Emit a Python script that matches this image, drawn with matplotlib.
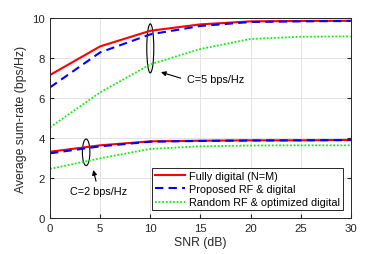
import matplotlib
matplotlib.use("Agg")
import matplotlib.pyplot as plt
from matplotlib.patches import Ellipse

plt.rcParams['font.family'] = ['Liberation Sans', 'DejaVu Sans']

snr = [0, 5, 10, 15, 20, 25, 30]

# C = 5 bps/Hz
full_c5 = [7.17, 8.6, 9.38, 9.7, 9.85, 9.87, 9.88]
prop_c5 = [6.55, 8.3, 9.2, 9.62, 9.82, 9.85, 9.87]
rand_c5 = [4.55, 6.3, 7.7, 8.47, 8.97, 9.08, 9.1]

# C = 2 bps/Hz
full_c2 = [3.33, 3.65, 3.85, 3.88, 3.9, 3.9, 3.92]
prop_c2 = [3.25, 3.6, 3.83, 3.87, 3.89, 3.9, 3.91]
rand_c2 = [2.47, 3.0, 3.47, 3.6, 3.64, 3.65, 3.65]

labels = ["Fully digital (N=M)", "Proposed RF & digital", "Random RF & optimized digital"]

fig = plt.figure(figsize=(3.88, 2.55), dpi=100)
ax = fig.add_axes([0.129, 0.14, 0.775, 0.784])

ax.plot(snr, full_c5, color='red', lw=1.5, label=labels[0])
ax.plot(snr, prop_c5, color='blue', lw=1.5, ls=(0, (4, 2.5)), label=labels[1])
ax.plot(snr, rand_c5, color='#11f011', lw=1.3, ls=(0, (1, 1)), label=labels[2])
ax.plot(snr, full_c2, color='red', lw=1.5)
ax.plot(snr, prop_c2, color='blue', lw=1.5, ls=(0, (4, 2.5)))
ax.plot(snr, rand_c2, color='#11f011', lw=1.3, ls=(0, (1, 1)))

# ellipses and annotations
ax.add_patch(Ellipse((10, 8.5), 0.7, 2.45, fill=False, ec='black', lw=0.8))
ax.add_patch(Ellipse((3.6, 3.3), 0.75, 1.33, fill=False, ec='black', lw=0.8))
ax.annotate("", xy=(10.8, 7.35), xytext=(13.3, 6.97),
            arrowprops=dict(arrowstyle='-|>', color='black', lw=0.8, mutation_scale=7))
ax.text(13.7, 6.97, "C=5 bps/Hz", fontsize=7.8, va='center', ha='left')
ax.annotate("", xy=(4.25, 2.55), xytext=(4.65, 1.72),
            arrowprops=dict(arrowstyle='-|>', color='black', lw=0.8, mutation_scale=7))
ax.text(4.8, 1.38, "C=2 bps/Hz", fontsize=7.8, va='center', ha='center')

ax.set_xlim(0, 30)
ax.set_ylim(0, 10)
ax.set_xticks([0, 5, 10, 15, 20, 25, 30])
ax.set_yticks([0, 2, 4, 6, 8, 10])
ax.grid(True, color='#e3e3e3', lw=0.7)
ax.set_axisbelow(True)
ax.tick_params(direction='in', length=3, labelsize=8.2, colors='#262626', top=False, right=True)
for s in ax.spines.values():
    s.set_color('#262626')
    s.set_linewidth(0.7)
ax.set_xlabel("SNR (dB)", fontsize=8.8, color='#262626', labelpad=2)
ax.set_ylabel("Average sum-rate (bps/Hz)", fontsize=8.8, color='#262626', labelpad=4)

leg = ax.legend(loc='lower right', fontsize=7.8, frameon=True, fancybox=False,
                edgecolor='#262626', framealpha=1, handlelength=2.8,
                borderpad=0.25, labelspacing=0.3, handletextpad=0.35,
                borderaxespad=0.75)
leg.get_frame().set_linewidth(0.7)

fig.savefig("out.png", dpi=100)
